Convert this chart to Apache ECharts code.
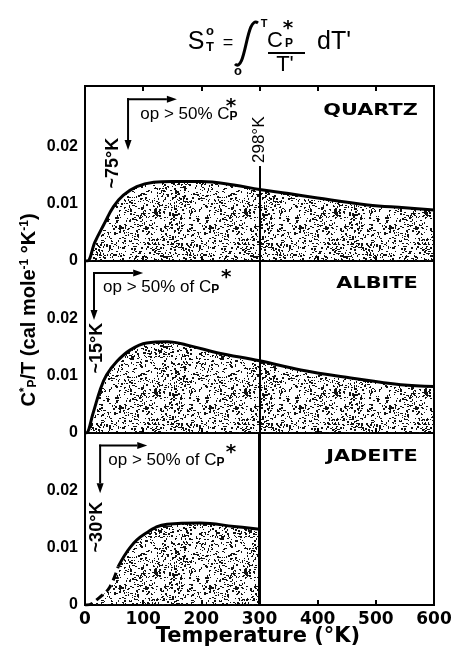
<!DOCTYPE html>
<html>
<head>
<meta charset="utf-8">
<script src="https://cdn.jsdelivr.net/npm/echarts@6.0.0/dist/echarts.min.js"></script>
<style>
html, body { margin: 0; padding: 0; background: #fff; }
#chart { width: 451px; height: 648px; }
</style>
</head>
<body>
<div id="chart"></div>
<script>
// Cp*/T (cal mole^-1 K^-2) against temperature (K)
const quartzT = [0, 4, 17, 32, 49, 66, 89, 118, 150, 200, 256, 300, 350, 400, 486, 550, 600];
const quartzV = [0, 0, 0.0033, 0.0063, 0.0095, 0.0115, 0.0130, 0.01375, 0.0139, 0.0139, 0.0133, 0.0125, 0.0118, 0.0110, 0.0098, 0.0093, 0.0089];

const albiteT = [0, 2, 14, 26, 37, 55, 78, 106, 141, 181, 227, 300, 371, 457, 543, 600];
const albiteV = [0, 0, 0.0035, 0.0075, 0.0101, 0.0125, 0.0145, 0.0157, 0.0159, 0.0152, 0.0140, 0.0126, 0.0110, 0.0096, 0.0084, 0.0081];

// jadeite: extrapolated (dashed) part and measured part
const jadeDashT = [0, 3, 26, 43, 57];
const jadeDashV = [0, 0, 0.0014, 0.0032, 0.0067];
const jadeT = [57, 78, 100, 141, 198, 256, 300];
const jadeV = [0.0067, 0.0101, 0.0122, 0.0141, 0.0143, 0.0137, 0.0132];

const xTicks = [0, 100, 200, 300, 400, 500, 600];
const xTickLabels = ['0', '100', '200', '300', '400', '500', '600'];
const yTicks = [0, 0.01, 0.02];
const yTickLabels = ['0', '0.01', '0.02'];

const minerals = ['QUARTZ', 'ALBITE', 'JADEITE'];
const onsetLabels = ['~75°K', '~15°K', '~30°K'];
const opLabels = ['op > 50% C', 'op > 50% of C', 'op > 50% of C'];

// annotation anchors in data units (T, value)
const arrowCorner = [[74, 0.0283], [15.5, 0.0279], [26, 0.0278]];
const arrowDownTo = [0.0194, 0.0197, 0.0195];
const arrowRightTo = [158, 100, 107];
const opAt = [[95, 0.0242], [31, 0.0240], [40, 0.0238]];
const starAt = [[251, 0.0275], [243, 0.0276], [251, 0.0271]];
const onsetAt = [[48, 0.0171], [21, 0.0148], [21, 0.0136]];
const nameAt = [[572, 0.0262], [572, 0.0261], [572, 0.0259]];
const label298At = [300, 0.0212];
const line298Top = 0.0173;

const zip = (a, b) => a.map((v, i) => [v, b[i]]);

// stipple texture for the shaded areas
function makeStipple() {
    const c = document.createElement('canvas');
    c.width = 90; c.height = 90;
    const g = c.getContext('2d');
    g.fillStyle = '#111';
    let s = 424242;
    const rnd = () => (s = (s * 16807) % 2147483647) / 2147483647;
    for (let i = 0; i < 1050; i++) {
        const x = Math.floor(rnd() * 90), y = Math.floor(rnd() * 90);
        g.fillRect(x, y, rnd() < 0.5 ? 2 : 1, rnd() < 0.35 ? 2 : 1);
    }
    return c;
}
const stipple = { image: makeStipple(), repeat: 'repeat' };

const chart = echarts.init(document.getElementById('chart'));

const grids = [
    { left: 85, top: 86, width: 349, height: 175 },
    { left: 85, top: 261, width: 349, height: 172 },
    { left: 85, top: 433, width: 349, height: 172 }
];
const yMax = [0.0306, 0.03, 0.03];

function xAxis(i, pos) {
    return {
        gridIndex: i, type: 'value', position: pos, min: 0, max: 600, interval: 100,
        axisLine: { show: true, lineStyle: { color: '#000', width: 2 } },
        axisTick: { show: true, inside: true, length: 5, lineStyle: { color: '#000', width: 2 } },
        axisLabel: (i === 2 && pos === 'bottom') ? {
            color: '#000', fontFamily: 'DejaVu Sans', fontWeight: 'bold', fontSize: 17, margin: 6,
            formatter: v => { const k = xTicks.indexOf(v); return k >= 0 ? xTickLabels[k] : ''; }
        } : { show: false },
        splitLine: { show: false }
    };
}

function yAxis(i) {
    return {
        gridIndex: i, type: 'value', min: 0, max: yMax[i], interval: 0.01,
        axisLine: { show: true, lineStyle: { color: '#000', width: 2 } },
        axisTick: { show: false },
        splitLine: { show: false },
        axisLabel: {
            color: '#000', fontFamily: 'Liberation Sans', fontWeight: 'bold', fontSize: 16, margin: 7,
            formatter: v => { const k = yTicks.findIndex(t => Math.abs(t - v) < 1e-9); return k >= 0 ? yTickLabels[k] : ''; }
        }
    };
}

function curve(i, data, dashed, lineW, lineTop) {
    return {
        type: 'line', xAxisIndex: i, yAxisIndex: i, data: data,
        smooth: 0.4, symbol: 'none', silent: true,
        lineStyle: { color: '#000', width: 3, type: dashed ? [8, 5] : 'solid' },
        areaStyle: { color: stipple, opacity: 1 },
        markLine: lineW ? {
            silent: true, symbol: 'none', label: { show: false },
            lineStyle: { color: '#000', width: lineW, type: 'solid' },
            data: [lineTop ? [{ coord: [300, 0] }, { coord: [300, lineTop] }] : { xAxis: 300 }]
        } : undefined,
        z: 2
    };
}

chart.setOption({
    animation: false,
    grid: grids.map(g => Object.assign({ show: true, borderColor: '#000', borderWidth: 2, containLabel: false, outerBoundsMode: 'none' }, g)),
    xAxis: [xAxis(0, 'bottom'), xAxis(1, 'bottom'), xAxis(2, 'bottom'), xAxis(0, 'top')],
    yAxis: [yAxis(0), yAxis(1), yAxis(2)],
    series: [
        curve(0, zip(quartzT, quartzV), false, 2, line298Top),
        curve(1, zip(albiteT, albiteV), false, 2),
        curve(2, zip(jadeDashT, jadeDashV), true, 0),
        curve(2, zip(jadeT, jadeV), false, 3)
    ]
});

// ---- annotations ----
const px = (i, p) => chart.convertToPixel({ xAxisIndex: i, yAxisIndex: i }, p);
const txt = (x, y, text, size, extra) => ({
    type: 'text', x: x, y: y, z: 10,
    style: Object.assign({
        text: text, fill: '#000', fontSize: size, fontFamily: 'Liberation Sans',
        align: 'center', verticalAlign: 'middle'
    }, extra || {})
});

function arrow(a, b) {
    const dx = b[0] - a[0], dy = b[1] - a[1];
    const len = Math.hypot(dx, dy), ux = dx / len, uy = dy / len;
    const L = 10, W = 3.5;
    const base = [b[0] - ux * L, b[1] - uy * L];
    return [
        { type: 'line', z: 10, shape: { x1: a[0], y1: a[1], x2: base[0], y2: base[1] }, style: { stroke: '#000', lineWidth: 2 } },
        { type: 'polygon', z: 10, shape: { points: [b, [base[0] - uy * W, base[1] + ux * W], [base[0] + uy * W, base[1] - ux * W]] }, style: { fill: '#000' } }
    ];
}

const graphic = [];
for (let i = 0; i < 3; i++) {
    const c = px(i, arrowCorner[i]);
    const down = px(i, [arrowCorner[i][0], arrowDownTo[i]]);
    const right = px(i, [arrowRightTo[i], arrowCorner[i][1]]);
    graphic.push(...arrow([c[0], c[1] - 1], down), ...arrow([c[0] - 1, c[1]], right));

    const o = px(i, opAt[i]);
    graphic.push(txt(o[0], o[1], '{a|' + opLabels[i] + '}{s|P}', 17, {
        align: 'left', verticalAlign: 'bottom',
        rich: { a: { fontSize: 17, fontFamily: 'Liberation Sans' }, s: { fontSize: 12, fontWeight: 'bold', fontFamily: 'Liberation Sans', verticalAlign: 'bottom' } }
    }));
    const st = px(i, starAt[i]);
    graphic.push(txt(st[0], st[1] + 3, '*', 20, { fontWeight: 'bold', fontFamily: 'DejaVu Sans' }));

    const on = px(i, onsetAt[i]);
    graphic.push(Object.assign(txt(on[0], on[1], onsetLabels[i], 18, { fontWeight: 'bold' }), { rotation: Math.PI / 2 }));

    const nm = px(i, nameAt[i]);
    graphic.push(Object.assign(txt(nm[0], nm[1], minerals[i], 16, { align: 'right', fontWeight: 'bold', fontFamily: 'DejaVu Sans' }), { scaleX: 1.3 }));
}
// 298 K label on the quartz panel's vertical line
const k298 = px(0, label298At);
graphic.push(Object.assign(txt(k298[0], k298[1], '298°K', 17, { backgroundColor: '#fff', padding: [2, 3] }), { rotation: Math.PI / 2 }));

// formula  S°_T = ∫_0^T Cp*/T' dT'
graphic.push(
    txt(196, 42, 'S', 25),
    txt(210, 31, 'o', 13, { fontWeight: 'bold' }),
    txt(210, 47, 'T', 13, { fontWeight: 'bold' }),
    txt(228, 43, '=', 18),
    { type: 'bezierCurve', z: 10, shape: { x1: 235, y1: 64, cpx1: 246, cpy1: 74, cpx2: 246, cpy2: 14, x2: 258, y2: 23 }, style: { stroke: '#000', lineWidth: 3, fill: null } },
    txt(238, 71, 'o', 13, { fontWeight: 'bold' }),
    txt(264, 24, 'T', 11, { fontWeight: 'bold' }),
    txt(275, 41, 'C', 22),
    txt(288, 29, '*', 20, { fontWeight: 'bold', fontFamily: 'DejaVu Sans' }),
    txt(289, 44, 'P', 12, { fontWeight: 'bold' }),
    { type: 'line', z: 10, shape: { x1: 268, y1: 53, x2: 305, y2: 53 }, style: { stroke: '#000', lineWidth: 2 } },
    txt(285, 65, "T'", 22),
    txt(334, 42, "dT'", 25)
);

// axis titles
graphic.push(
    txt(258, 637, 'Temperature (°K)', 21, { fontFamily: 'DejaVu Sans', fontWeight: 'bold' }),
    Object.assign(txt(29, 310, '{m|C}{p|*}{b|P}{m|/T (cal mole}{p|-1}{m| °K}{p|-1}{m|)}', 20, {
        rich: {
            m: { fontSize: 20, fontFamily: 'Liberation Sans', fontWeight: 'bold' },
            p: { fontSize: 12, fontFamily: 'Liberation Sans', fontWeight: 'bold', verticalAlign: 'top' },
            b: { fontSize: 12, fontFamily: 'Liberation Sans', fontWeight: 'bold', verticalAlign: 'bottom' }
        }
    }), { rotation: Math.PI / 2 })
);

chart.setOption({ graphic: graphic });
</script>
</body>
</html>
